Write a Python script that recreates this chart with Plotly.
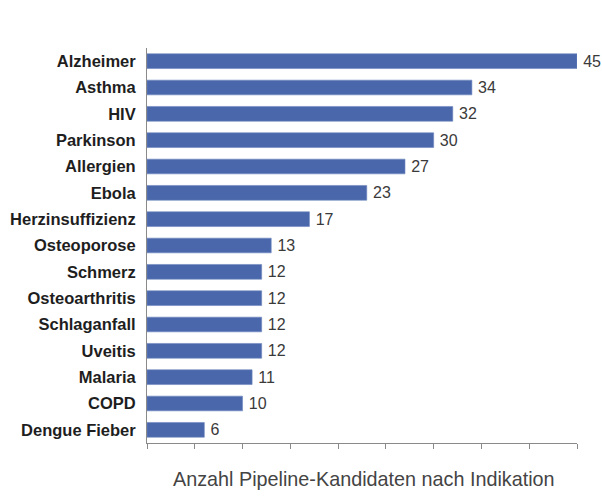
import plotly.graph_objects as go

# Pipeline candidates per indication
indikationen = [
    "Alzheimer", "Asthma", "HIV", "Parkinson", "Allergien", "Ebola",
    "Herzinsuffizienz", "Osteoporose", "Schmerz", "Osteoarthritis",
    "Schlaganfall", "Uveitis", "Malaria", "COPD", "Dengue Fieber",
]
kandidaten = [45, 34, 32, 30, 27, 23, 17, 13, 12, 12, 12, 12, 11, 10, 6]
x_ticks = [0, 5, 10, 15, 20, 25, 30, 35, 40, 45]

FONT = "Arial, Liberation Sans, sans-serif"
W, H = 602, 496
M_L, M_R, M_T, M_B = 147, 25, 48, 53

fig = go.Figure(
    go.Bar(
        x=kandidaten,
        y=indikationen,
        orientation="h",
        marker=dict(color="#4a67ab", line=dict(color="#6f88c0", width=0.6)),
        texttemplate="\u2009%{x}",
        textposition="outside",
        constraintext="none",
        cliponaxis=False,
        textfont=dict(family=FONT, size=16, color="#3a3a3a"),
        hoverinfo="skip",
    )
)

# axis title placed as an annotation, centred below the plot area
plot_h = H - M_T - M_B
title_center_px = 479
fig.update_layout(
    width=W,
    height=H,
    margin=dict(l=M_L, r=M_R, t=M_T, b=M_B),
    paper_bgcolor="white",
    plot_bgcolor="white",
    bargap=0.44,
    showlegend=False,
    font=dict(family=FONT),
    annotations=[
        dict(
            text="Anzahl Pipeline-Kandidaten nach Indikation",
            x=(364 - M_L) / (W - M_L - M_R), xref="paper",
            y=-(title_center_px - (H - M_B)) / plot_h, yref="paper",
            xanchor="center",
            yanchor="middle",
            showarrow=False,
            font=dict(family=FONT, size=19.8, color="#444444"),
        )
    ],
)

fig.update_xaxes(
    range=[0, 45],
    tickvals=x_ticks,
    showticklabels=False,
    ticks="outside",
    ticklen=5,
    tickcolor="#8a8a8a",
    showline=True,
    linecolor="#8a8a8a",
    linewidth=1,
    showgrid=False,
    zeroline=False,
    fixedrange=True,
    automargin=False,
)
fig.update_yaxes(
    categoryorder="array",
    categoryarray=indikationen[::-1],
    showline=True,
    linecolor="#8a8a8a",
    linewidth=1,
    ticks="",
    ticklabelstandoff=7,
    tickfont=dict(family=FONT, size=16.5, color="#1e1e1e", weight="bold"),
    showgrid=False,
    fixedrange=True,
    automargin=False,
)

fig.write_html("out.html")
